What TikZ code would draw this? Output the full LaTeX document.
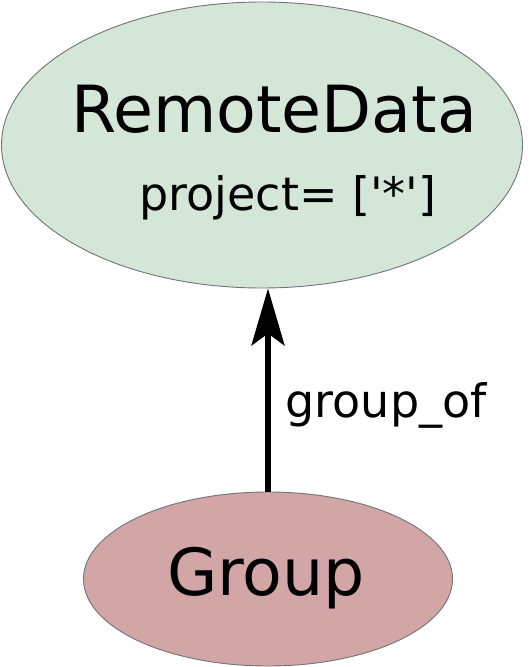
\documentclass[tikz,border=0pt]{standalone}
\usepackage{fontspec}
\newfontfamily\dejavu{DejaVu Sans}
\usetikzlibrary{shapes.geometric,arrows.meta}
\definecolor{remotegreen}{RGB}{211,230,215}
\definecolor{grouprose}{RGB}{210,166,166}
\begin{document}
\begin{tikzpicture}[x=1pt,y=-1pt,
	cls/.style={ellipse,draw=black!55,line width=0.9pt,inner sep=0pt},
	big/.style={font=\dejavu\fontsize{65}{65}\selectfont,anchor=base},
	small/.style={font=\dejavu\fontsize{46}{46}\selectfont,anchor=base}]
	\useasboundingbox (0,0) rectangle (530,667);
	\node[cls,fill=remotegreen,minimum width=521pt,minimum height=286pt] (remote) at (262,145) {};
	\node[big] (remotename) at (274,132) {RemoteData};
	\node[small] (project) at (288,210) {project= ['*']};
	\node[cls,fill=grouprose,minimum width=369pt,minimum height=174pt] (group) at (268,579) {};
	\node[big] (groupname) at (266,595) {Group};
	\draw[line width=5.5pt,-{Stealth[length=57pt,width=33pt,inset=12pt]}] (group.north) -- (group.north |- remote.south);
	\node[small,anchor=base west] (groupof) at (282,417) {group\_of};
\end{tikzpicture}
\end{document}
